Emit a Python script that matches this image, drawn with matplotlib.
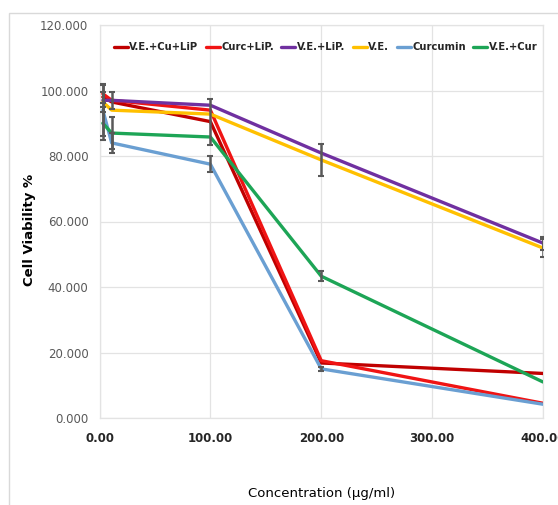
import matplotlib
matplotlib.use("Agg")
import matplotlib.pyplot as plt
from matplotlib.patches import Rectangle

conc = [3, 11, 100, 200, 400]
series_names = ["V.E.+Cu+LiP", "Curc+LiP.", "V.E.+LiP.", "V.E.", "Curcumin", "V.E.+Cur"]
ve_cu_lip = [98.0, 96.5, 90.5, 16.8, 13.6]
curc_lip = [99.0, 97.0, 94.0, 17.5, 4.5]
ve_lip = [97.0, 97.0, 95.5, 80.9, 53.4]
ve = [96.5, 94.0, 92.8, 78.8, 51.9]
curcumin = [94.0, 84.0, 77.5, 15.0, 4.2]
ve_cur = [90.0, 87.0, 85.8, 43.3, 11.0]

err_ve_cu_lip = [0, 0, 7.0, 0, 0]
err_curc_lip = [2.7, 0, 0, 0, 0]
err_ve_lip = [0, 2.5, 0, 0, 2.0]
err_ve = [3.0, 0, 0, 4.8, 2.7]
err_curcumin = [8.0, 3.0, 2.5, 0.5, 0]
err_ve_cur = [5.0, 5.0, 0, 1.5, 0]

colors = ["#C00000", "#F01414", "#7030A0", "#FFC000", "#6A9FD2", "#1DA556"]
values = [ve_cu_lip, curc_lip, ve_lip, ve, curcumin, ve_cur]
errors = [err_ve_cu_lip, err_curc_lip, err_ve_lip, err_ve, err_curcumin, err_ve_cur]

xticks = [0, 100, 200, 300, 400]
xticklabels = ["0.00", "100.00", "200.00", "300.00", "400.00"]
yticks = [0, 20, 40, 60, 80, 100, 120]
yticklabels = ["0.000", "20.000", "40.000", "60.000", "80.000", "100.000", "120.000"]

fig = plt.figure(figsize=(5.58, 5.05), dpi=100)
fig.patches.append(Rectangle((9/558, -0.1), 1.2, (505-13)/505 + 0.1, transform=fig.transFigure,
                             fill=False, edgecolor="#D9D9D9", linewidth=1.0))
ax = fig.add_axes([99.5/558, 87/505, 443.5/558, 393/505])

for name, vals, errs, c in zip(series_names, values, errors, colors):
    ax.plot(conc, vals, color=c, lw=2.4, label=name, zorder=3, solid_capstyle="round")
for vals, errs in zip(values, errors):
    xs = [x for x, e in zip(conc, errs) if e > 0]
    ys = [v for v, e in zip(vals, errs) if e > 0]
    es = [e for e in errs if e > 0]
    ax.errorbar(xs, ys, yerr=es, fmt="none", ecolor="#595959", elinewidth=1.8,
                capsize=2, capthick=1.5, zorder=4)

ax.set_xlim(0, 400)
ax.set_ylim(0, 120)
ax.set_xticks(xticks)
ax.set_xticklabels(xticklabels, fontsize=8.5, fontweight="bold", color="#262626")
ax.set_yticks(yticks)
ax.set_yticklabels(yticklabels, fontsize=8.5, color="#595959")
ax.tick_params(length=0, pad=8)
ax.tick_params(axis="x", pad=10)
ax.grid(True, color="#E3E3E3", lw=0.9)
ax.set_axisbelow(True)
for s in ax.spines.values():
    s.set_color("#E3E3E3")
    s.set_linewidth(0.9)

leg = ax.legend(loc="upper center", bbox_to_anchor=(0.51, 0.972), ncol=6, frameon=False,
                handlelength=1.4, handletextpad=0.15, columnspacing=0.75,
                borderaxespad=0.2, prop={"weight": "bold", "size": 7.2})
for t in leg.get_texts():
    t.set_color("#262626")

fig.text(30/558, 1 - 230/505, "Cell Viability %", rotation=90, fontsize=9.5, fontweight="bold",
         ha="center", va="center", color="#000000")
fig.text(322/558, 1 - 493/505, "Concentration (µg/ml)", fontsize=9.5, ha="center", va="center",
         color="#000000")

fig.savefig("out.png", dpi=100)
